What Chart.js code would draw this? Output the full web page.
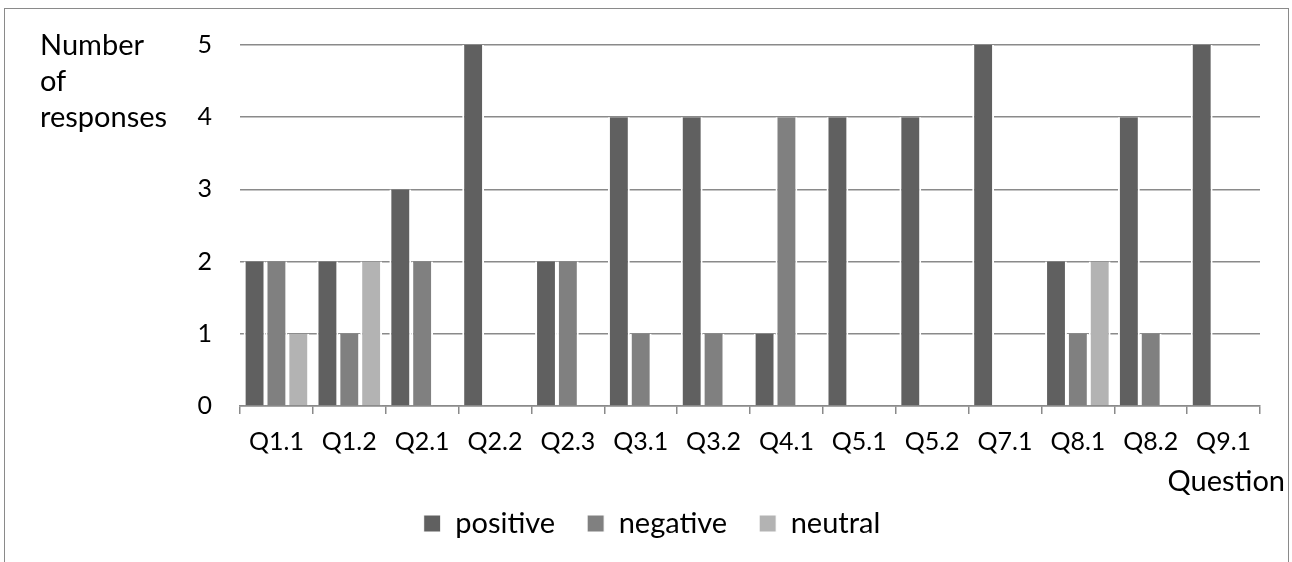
<!DOCTYPE html>
<html lang="en">
<head>
  <title>Responses per question</title>
  <script src="https://cdn.jsdelivr.net/npm/chart.js"></script>
</head>

<style>
  body { margin: 0; background: white; }
  #frame {
    position: absolute; left: 4px; top: 8px; width: 1285px; height: 600px;
    border: 1.5px solid #8a8a8a; box-sizing: border-box;
  }
  #wrap { position: absolute; left: 0; top: 0; width: 1292px; height: 562px; }
</style>

<body>
  <div id="frame"></div>
  <div id="wrap"><canvas id="bar-chart" width="1292" height="562"></canvas></div>

  <script>
    // data
    const questions = ['Q1.1', 'Q1.2', 'Q2.1', 'Q2.2', 'Q2.3', 'Q3.1', 'Q3.2', 'Q4.1', 'Q5.1', 'Q5.2', 'Q7.1', 'Q8.1', 'Q8.2', 'Q9.1'];
    const positive = [2, 2, 3, 5, 2, 4, 4, 1, 4, 4, 5, 2, 4, 5];
    const negative = [2, 1, 2, 0, 2, 1, 1, 4, 0, 0, 0, 1, 1, 0];
    const neutral  = [1, 2, 0, 0, 0, 0, 0, 0, 0, 0, 0, 2, 0, 0];
    const yTicks = [0, 1, 2, 3, 4, 5];
    const yTitle = ['Number', 'of', 'responses'];
    const xTitle = 'Question';

    const FONT = 'Lato, "Open Sans", sans-serif';
    const gridColor = '#8a8a8a';

    // axis titles are drawn as plain text, like in the original sheet
    const axisTitles = {
      id: 'axisTitles',
      afterLayout(chart) {
        // legend sits a bit right of centre in the original
        chart.legend.left += 22;
        chart.legend.right += 22;
      },
      afterDraw(chart) {
        const ctx = chart.ctx;
        ctx.save();
        ctx.fillStyle = '#000';
        ctx.font = '29px ' + FONT;
        ctx.textAlign = 'left';
        ctx.textBaseline = 'alphabetic';
        yTitle.forEach((t, i) => ctx.fillText(t, 40, 55 + i * 36));
        ctx.textAlign = 'right';
        ctx.fillText(xTitle, 1285, 491);
        ctx.restore();
      }
    };

    function barSet(label, data, color) {
      return {
        label: label,
        data: data,
        backgroundColor: color,
        borderColor: '#ffffff',
        borderWidth: {left: 2, right: 2, top: 0, bottom: 0},
        borderSkipped: false,
        categoryPercentage: 0.9,
        barPercentage: 1.0
      };
    }

    var ctx1 = document.getElementById('bar-chart').getContext('2d');
    var chart1 = new Chart(ctx1, {
      type: 'bar',
      data: {
        labels: questions,
        datasets: [
          barSet('positive', positive, '#606060'),
          barSet('negative', negative, '#808080'),
          barSet('neutral', neutral, '#b3b3b3')
        ]
      },
      options: {
        responsive: false,
        animation: false,
        layout: { padding: { left: 0, right: 32, top: 45, bottom: 14 } },
        plugins: {
          tooltip: { enabled: false },
          legend: {
            position: 'bottom',
            labels: {
              color: '#000',
              font: { family: FONT, size: 29 },
              boxWidth: 17,
              boxHeight: 17,
              padding: 32
            }
          }
        },
        scales: {
          x: {
            afterFit(scale) { scale.height = 71; },
            grid: {
              offset: true,
              drawOnChartArea: false,
              drawTicks: true,
              tickLength: 8,
              color: gridColor,
              lineWidth: 1.5
            },
            border: { display: true, color: gridColor, width: 1.5 },
            ticks: { color: '#000', font: { family: FONT, size: 25 }, padding: 13, maxRotation: 0 }
          },
          y: {
            min: 0,
            max: 5,
            afterFit(scale) { scale.width = 240; },
            afterBuildTicks(scale) { scale.ticks = yTicks.map(v => ({value: v})); },
            grid: { color: gridColor, lineWidth: 1.5, drawTicks: false },
            border: { display: false },
            ticks: { color: '#000', font: { family: FONT, size: 25 }, padding: 28 }
          }
        }
      },
      plugins: [axisTitles]
    });
  </script>
</body>

</html>
